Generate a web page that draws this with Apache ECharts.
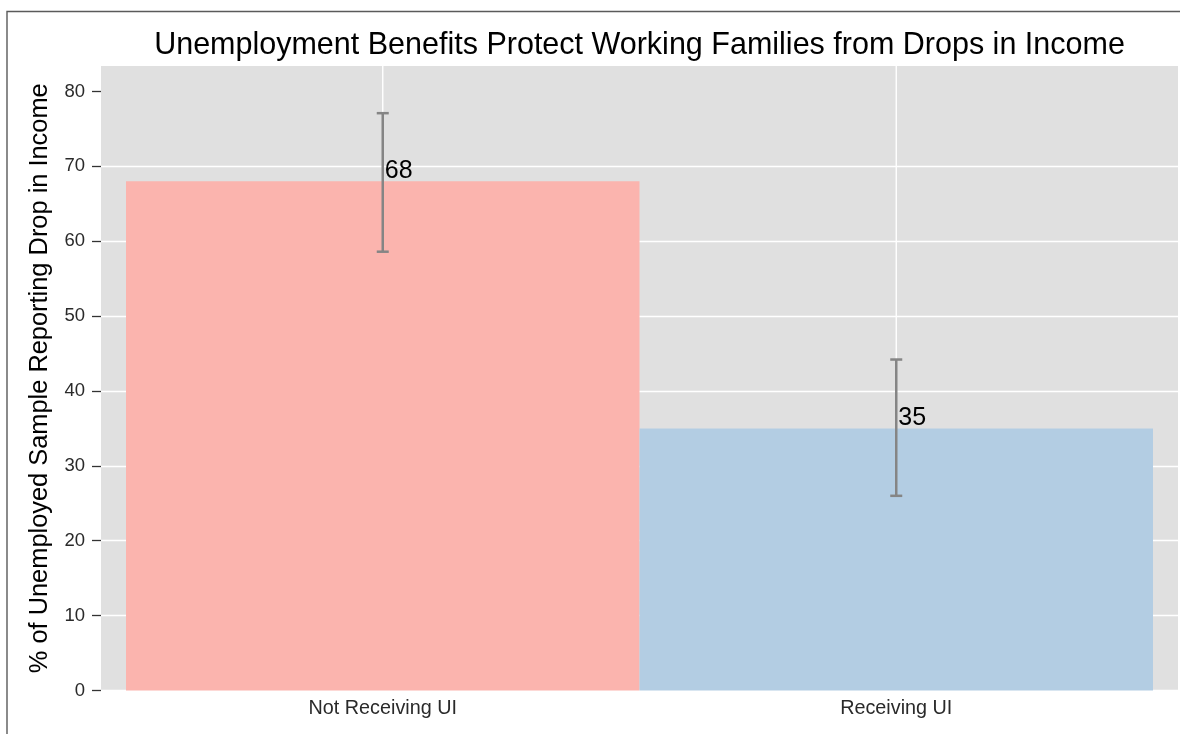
<!DOCTYPE html>
<html>
<head>
<meta charset="utf-8">
<script src="https://cdn.jsdelivr.net/npm/echarts@6/dist/echarts.min.js"></script>
<style>
  html, body { margin: 0; padding: 0; background: #ffffff; }
  #chart { width: 1180px; height: 734px; }
</style>
</head>
<body>
<div id="chart"></div>
<script>
// ---- data ----
const categories = ['Not Receiving UI', 'Receiving UI'];
const values = [68, 35];
const errLow = [58.6, 26.0];
const errHigh = [77.1, 44.2];
const yTicks = [0, 10, 20, 30, 40, 50, 60, 70, 80];
const titleText = 'Unemployment Benefits Protect Working Families from Drops in Income';
const yAxisTitle = '% of Unemployed Sample Reporting Drop in Income';

// ---- style ----
const FONT = '"Liberation Sans", Arial, sans-serif';
const BAR_COLORS = ['#FBB4AE', '#B3CDE3'];
const Y_MAX = 83.4;

const chart = echarts.init(document.getElementById('chart'), null, { renderer: 'canvas' });

const option = {
  animation: false,
  backgroundColor: '#ffffff',
  graphic: [
    {
      type: 'rect', silent: true, z: 100,
      shape: { x: 7, y: 11.5, width: 1400, height: 1000 },
      style: { fill: 'none', stroke: '#5a5a5a', lineWidth: 1.4 }
    },
    {
      type: 'text', silent: true, z: 100,
      x: 639.5, y: 45.5,
      style: {
        text: titleText, align: 'center', verticalAlign: 'middle',
        fontFamily: FONT, fontSize: 30.5, fill: '#000000'
      }
    }
  ],
  grid: [
    { left: 101, right: 2, top: 66, bottom: 43.5, show: true, backgroundColor: '#E0E0E0', borderWidth: 0, containLabel: false },
    { left: 126, right: 27, top: 66, bottom: 43.5, show: false, containLabel: false }
  ],
  xAxis: [
    { gridIndex: 0, type: 'value', min: 0, max: 1, show: false },
    {
      gridIndex: 1, type: 'category', data: categories, position: 'bottom',
      axisLine: { show: false }, axisTick: { show: false }, splitLine: { show: false },
      axisLabel: { margin: 8, fontFamily: FONT, fontSize: 19.8, color: '#2a2a2a' }
    }
  ],
  yAxis: [
    {
      gridIndex: 0, type: 'value', min: 0, max: Y_MAX, interval: 5, position: 'left',
      name: yAxisTitle, nameLocation: 'middle', nameRotate: 90, nameGap: 49,
      nameTextStyle: { fontFamily: FONT, fontSize: 25.4, color: '#000000' },
      axisLine: { show: false },
      axisTick: { show: true, length: 9, customValues: yTicks, lineStyle: { color: '#333333', width: 1.3 } },
      axisLabel: { show: true, customValues: yTicks, margin: 16, fontFamily: FONT, fontSize: 18.5, color: '#2a2a2a' },
      splitLine: { show: true, showMaxLine: false, showMinLine: true, lineStyle: { color: '#ffffff', width: 1.4 } }
    },
    { gridIndex: 1, type: 'value', min: 0, max: Y_MAX, show: false, position: 'left' }
  ],
  series: [
    {
      name: 'vgrid', type: 'custom', xAxisIndex: 1, yAxisIndex: 1, z: 1, silent: true,
      data: categories.map((c, i) => [i]),
      encode: { x: 0 },
      renderItem: function (params, api) {
        const x = api.coord([api.value(0), 0])[0];
        const cs = params.coordSys;
        return {
          type: 'line',
          shape: { x1: x, y1: cs.y, x2: x, y2: cs.y + cs.height },
          style: { stroke: '#ffffff', lineWidth: 1.4 }
        };
      }
    },
    {
      name: 'bars', type: 'bar', xAxisIndex: 1, yAxisIndex: 1, z: 2,
      barWidth: '100%', barCategoryGap: 0,
      data: values.map((v, i) => ({ value: v, itemStyle: { color: BAR_COLORS[i] } })),
      label: {
        show: true, position: ['50%', 0], align: 'left', verticalAlign: 'middle',
        offset: [2, -10], fontFamily: FONT, fontSize: 25, color: '#000000'
      }
    },
    {
      name: 'errors', type: 'custom', xAxisIndex: 1, yAxisIndex: 1, z: 3, silent: true,
      data: categories.map((c, i) => [i, errLow[i], errHigh[i]]),
      encode: { x: 0, y: [1, 2] },
      renderItem: function (params, api) {
        const lo = api.coord([api.value(0), api.value(1)]);
        const hi = api.coord([api.value(0), api.value(2)]);
        const hw = 6;
        const st = { stroke: '#858585', lineWidth: 2.5 };
        return {
          type: 'group',
          children: [
            { type: 'line', shape: { x1: lo[0], y1: lo[1], x2: hi[0], y2: hi[1] }, style: st },
            { type: 'line', shape: { x1: hi[0] - hw, y1: hi[1], x2: hi[0] + hw, y2: hi[1] }, style: st },
            { type: 'line', shape: { x1: lo[0] - hw, y1: lo[1], x2: lo[0] + hw, y2: lo[1] }, style: st }
          ]
        };
      }
    }
  ]
};

chart.setOption(option);
</script>
</body>
</html>
